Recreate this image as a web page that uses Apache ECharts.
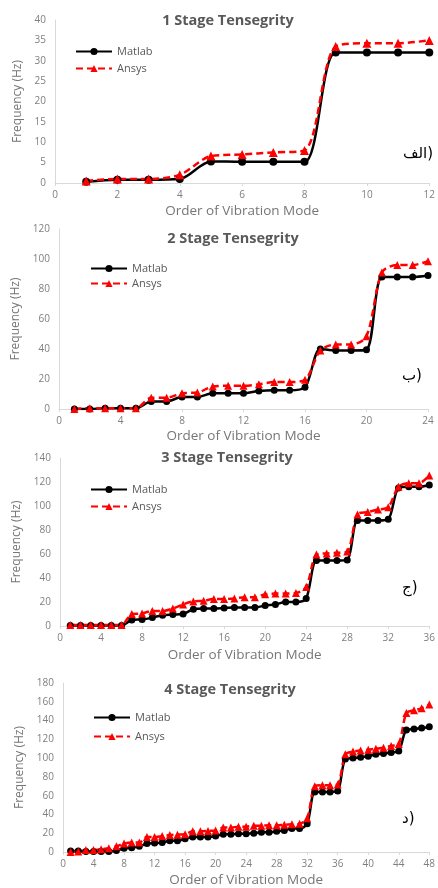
<!DOCTYPE html>
<html><head><meta charset="utf-8">
<script src="https://cdn.jsdelivr.net/npm/echarts@6/dist/echarts.min.js"></script>
<style>html,body{margin:0;padding:0;background:#fff}#c{width:438px;height:888px}</style>
</head><body><div id="c"></div>
<script>
const titles = ['1 Stage Tensegrity', '2 Stage Tensegrity', '3 Stage Tensegrity', '4 Stage Tensegrity'];
const panelLabels = ['الف)', 'ب)', 'ج)', 'د)'];
const xMax = [12, 24, 36, 48];
const xStep = [2, 4, 4, 4];
const yMax = [40, 120, 140, 180];
const yStep = [5, 20, 20, 20];

const matlab1 = [0.3, 0.8, 0.8, 1.0, 5.3, 5.2, 5.2, 5.2, 32, 32, 32, 32];
const ansys1  = [0.5, 1.0, 1.0, 2.0, 6.6, 7.0, 7.5, 8.0, 33.5, 34.3, 34.3, 35];

const matlab2 = [0, 0, 0.5, 0.5, 0.5, 5, 5, 8, 8, 10.5, 10.5, 10.5, 12, 12.5, 12.5, 14.5, 40, 39, 39, 39.5, 88, 88, 88, 89];
const ansys2  = [0, 0.5, 0.5, 0.5, 0.5, 7.5, 7.5, 10.5, 11, 15, 15.5, 15.5, 16.5, 18, 18, 19.5, 39, 43, 43, 48.5, 91, 96, 96, 98.5];

const matlab3 = [0.5, 0.5, 0.5, 0.5, 0.5, 0.5, 5, 5.5, 7, 9, 9.5, 10, 14, 14.5, 14.5, 15, 15.5, 15.5, 15.5, 17, 18, 20, 20, 23,
                 54.5, 54.5, 54.5, 55, 88, 88, 88, 89, 115, 116, 116, 117.5];
const ansys3  = [0.8, 0.8, 0.8, 0.8, 0.8, 0.8, 10, 10.5, 12.5, 12.5, 14.5, 18, 20.5, 21, 22.5, 22.5, 23, 24, 24, 26.5, 27, 27, 27.5, 32.5,
                 59.5, 60.5, 61, 62, 93, 95, 97, 99, 116, 119, 119, 125.5];

const matlab4 = [1, 1, 0.5, 0.5, 0.5, 0.5, 1.5, 4, 4.5, 6, 9, 9.5, 10, 12, 12, 14, 16, 16, 16, 17, 19, 19, 19.5, 19.5,
                 20, 21, 21, 22, 23, 25, 25, 30, 64, 64, 64, 65, 99, 100, 101, 102, 104, 105, 106, 107.5, 130, 131, 132, 133.5];
const ansys4  = [0, 0.5, 2, 2, 3, 4, 6, 9, 10, 10, 16, 16, 17, 18, 18.5, 19, 22, 22, 22.5, 23, 26, 26, 27, 27,
                 28, 28, 28.5, 28.5, 29, 29.5, 30, 36, 70, 71, 71, 72, 104, 107, 108, 109, 110, 111, 113, 115, 148, 151, 153, 157];

const matlabSets = [matlab1, matlab2, matlab3, matlab4];
const ansysSets = [ansys1, ansys2, ansys3, ansys4];

// layout
const grids = [
  {left: 55, top: 20, width: 375, height: 163},
  {left: 59, top: 229, width: 369, height: 180},
  {left: 60, top: 458, width: 372, height: 168},
  {left: 63, top: 683, width: 367, height: 169}
];
const titlePos = [[223, 8], [228, 226], [222, 445], [225, 677]];
const legendPos = [[70, 41, 6], [85, 258, 4], [85, 479, 6], [88, 707, 8]];
const yNameGap = [30, 34, 35, 34];
const xNameGap = [21, 20, 22, 21];
const labelPos = [[433, 157], [432, 379], [432, 591], [432, 822]];

const FONT = 'Open Sans';
const grey = '#7f7f7f';
const axisGrey = '#d9d9d9';

const option = {
  backgroundColor: '#fff',
  animation: false,
  textStyle: {fontFamily: FONT},
  title: [], grid: [], xAxis: [], yAxis: [], legend: [], series: [], graphic: []
};

for (let p = 0; p < 4; p++) {
  option.title.push({
    text: titles[p], left: titlePos[p][0], top: titlePos[p][1], textAlign: 'center',
    textStyle: {fontFamily: FONT, fontSize: 14.5, fontWeight: 'bold', color: '#595959'}
  });
  option.grid.push(Object.assign({containLabel: false}, grids[p]));
  option.xAxis.push({
    type: 'value', gridIndex: p, min: 0, max: xMax[p], interval: xStep[p],
    name: 'Order of Vibration Mode', nameLocation: 'middle', nameGap: xNameGap[p],
    nameTextStyle: {fontFamily: FONT, fontSize: 13.5, color: '#767676'},
    axisLine: {show: true, lineStyle: {color: axisGrey, width: 1}},
    axisTick: {show: true, length: 3, lineStyle: {color: axisGrey}},
    axisLabel: {fontFamily: FONT, fontSize: 10, color: grey, margin: 7},
    splitLine: {show: false}
  });
  option.yAxis.push({
    type: 'value', gridIndex: p, min: 0, max: yMax[p], interval: yStep[p],
    name: 'Frequency (Hz)', nameLocation: 'middle', nameGap: yNameGap[p], nameRotate: 90,
    nameTextStyle: {fontFamily: FONT, fontSize: 12, color: '#767676'},
    axisLine: {show: true, lineStyle: {color: axisGrey, width: 1}},
    axisTick: {show: false},
    axisLabel: {fontFamily: FONT, fontSize: 10, color: grey, margin: 9},
    splitLine: {show: false}
  });
  option.legend.push({
    left: legendPos[p][0], top: legendPos[p][1], orient: 'vertical',
    itemGap: legendPos[p][2], itemWidth: 36, itemHeight: 9,
    data: ['Matlab', 'Ansys'],
    textStyle: {fontFamily: FONT, fontSize: 11, color: '#595959'}
  });
  const m = matlabSets[p], a = ansysSets[p];
  option.series.push({
    name: 'Matlab', type: 'line', xAxisIndex: p, yAxisIndex: p,
    data: m.map((v, i) => [i + 1, v]),
    smooth: 0.3, symbol: 'circle', symbolSize: p === 0 ? 8 : 7,
    lineStyle: {color: '#000', width: 2.5},
    itemStyle: {color: '#000'}
  });
  option.series.push({
    name: 'Ansys', type: 'line', xAxisIndex: p, yAxisIndex: p,
    data: a.map((v, i) => [i + 1, v]),
    smooth: 0.3, symbol: 'triangle', symbolSize: p === 0 ? 9 : 8,
    lineStyle: {color: '#ff0000', width: 2.5, type: [7, 4]},
    itemStyle: {color: '#ff0000'}
  });
  option.graphic.push({
    type: 'text', left: labelPos[p][0] - 30, top: labelPos[p][1] - 10,
    style: {text: panelLabels[p], fontFamily: 'DejaVu Sans', fontSize: 15, fill: '#000',
            width: 30, align: 'right'}
  });
}

const chart = echarts.init(document.getElementById('c'), null, {renderer: 'canvas'});
chart.setOption(option);
</script>
</body></html>
